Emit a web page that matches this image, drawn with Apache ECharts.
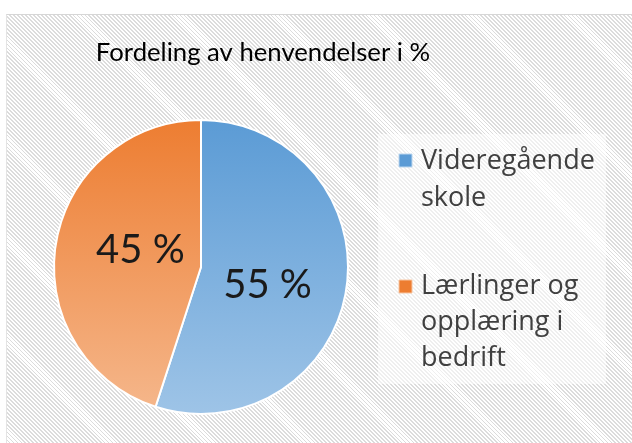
<!DOCTYPE html>
<html>
<head>
<meta charset="utf-8">
<script src="https://cdn.jsdelivr.net/npm/echarts@6/dist/echarts.min.js"></script>
<style>
  html, body { margin: 0; padding: 0; background: #fff; }
  #wrap { position: relative; width: 632px; height: 443px; overflow: hidden; }
  #hatch {
    position: absolute; left: 6px; top: 14px; right: 0; bottom: 0;
    border-top: 1px solid #d6d6d6; border-left: 1px solid #e4e4e4;
    background: repeating-linear-gradient(45deg, #ffffff 0px, #ffffff 1.5px, #dcdcdc 1.5px, #dcdcdc 2.8px);
  }
  #main { position: absolute; left: 0; top: 0; width: 632px; height: 443px; }
</style>
</head>
<body>
<div id="wrap">
  <div id="hatch"></div>
  <div id="main"></div>
</div>
<script>
var categories = ['Videregående skole', 'Lærlinger og opplæring i bedrift'];
var legendLines = ['Videregående\nskole', 'Lærlinger og\nopplæring i\nbedrift'];
var values = [55, 45];

var chart = echarts.init(document.getElementById('main'));

var fills = [
  new echarts.graphic.LinearGradient(0, 0, 0, 1, [
    {offset: 0, color: '#5b9bd5'},
    {offset: 1, color: '#9ec4e7'}
  ]),
  new echarts.graphic.LinearGradient(0, 0, 0, 1, [
    {offset: 0, color: '#ed7d31'},
    {offset: 1, color: '#f5b68a'}
  ])
];
// nudge inside labels to where the original sits
var labelShift = [[-9, 6], [15, -5]];

var pieData = [];
for (var i = 0; i < categories.length; i++) {
  pieData.push({name: categories[i], value: values[i], itemStyle: {color: fills[i]}});
}

chart.setOption({
  backgroundColor: 'transparent',
  animation: false,
  title: {
    text: 'Fordeling av henvendelser i %',
    left: 258,
    top: 35,
    textAlign: 'center',
    textStyle: {
      fontFamily: 'Lato',
      fontWeight: 'normal',
      fontSize: 25.7,
      color: '#000'
    }
  },
  graphic: [
    {
      type: 'rect',
      shape: {x: 378, y: 134, width: 228, height: 250},
      style: {fill: 'rgba(255,255,255,0.55)'},
      silent: true,
      z: 0
    },
    {
      type: 'rect',
      shape: {x: 399, y: 154, width: 13, height: 13},
      style: {fill: '#5b9bd5', stroke: '#bcd6ee', lineWidth: 1},
      z: 10
    },
    {
      type: 'text',
      left: 421,
      top: 143,
      style: {
        text: legendLines[0],
        font: '27px "Open Sans"',
        fill: '#404040',
        lineHeight: 37
      },
      z: 10
    },
    {
      type: 'rect',
      shape: {x: 399, y: 280, width: 13, height: 13},
      style: {fill: '#ed7d31', stroke: '#f8c6a2', lineWidth: 1},
      z: 10
    },
    {
      type: 'text',
      left: 421,
      top: 268,
      style: {
        text: legendLines[1],
        font: '27px "Open Sans"',
        fill: '#404040',
        lineHeight: 36
      },
      z: 10
    }
  ],
  series: [
    {
      type: 'pie',
      center: [201, 267],
      radius: 147,
      startAngle: 90,
      clockwise: true,
      itemStyle: {borderColor: '#fff', borderWidth: 2},
      label: {
        position: 'inside',
        formatter: '{c} %',
        fontFamily: 'Lato',
        fontSize: 40,
        color: '#1a1a1a'
      },
      labelLayout: function (p) {
        return {dx: labelShift[p.dataIndex][0], dy: labelShift[p.dataIndex][1]};
      },
      labelLine: {show: false},
      emphasis: {disabled: true},
      data: pieData
    }
  ]
});
</script>
</body>
</html>
